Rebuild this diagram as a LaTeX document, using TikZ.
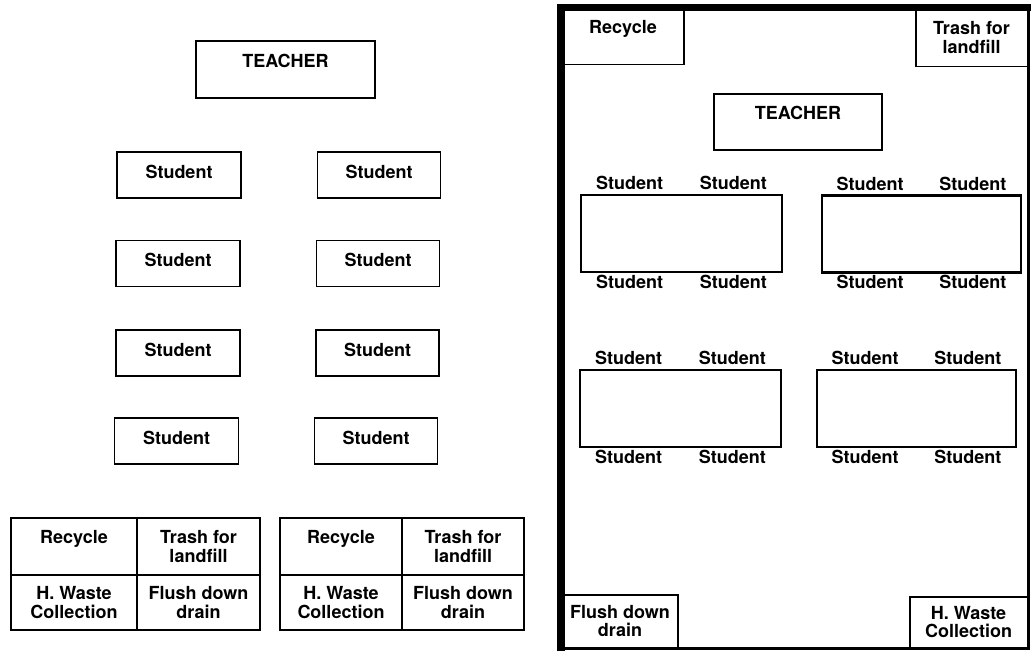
\documentclass[tikz,border=0pt]{standalone}
\usepackage{fontspec}
\setmainfont{TeX Gyre Heros}
\usetikzlibrary{positioning,calc}
\newlength\pxunit
\setlength\pxunit{0.025cm}
\tikzset{
    box/.style 2 args={draw, line width=1.4pt, minimum width=#1\pxunit, minimum height=#2\pxunit, inner sep=0pt, align=center},
    single desk/.style 2 args={box={#1}{#2}, text depth=5pt},
    bin/.style 2 args={box={#1}{#2}},
    group desk/.style 2 args={box={#1}{#2}, line width=1.6pt},
    seat/.style={inner sep=1pt},
    room wall/.style={line width=5.5pt},
    room wall thin/.style={line width=2.5pt},
}
\tikzstyle{every node}=[font=\fontsize{12.8}{13}\selectfont\bfseries]

\begin{document}
\begin{tikzpicture}[x=0.025cm, y=-0.025cm]
    \useasboundingbox (0,0) rectangle (1031,651);

    % rows of single desks
    \node[box={179}{57}] (teacherL) at (285.5,69.5) {TEACHER\\\mbox{}};
    \foreach \i/\y/\xl/\xr in {1/175/179/379, 2/263.5/178/378, 3/353/178/377.5, 4/441/176.5/376}{
        \node[single desk={124}{46}] (studL\i) at (\xl,\y) {Student};
        \node[single desk={123}{46}] (studR\i) at (\xr,\y) {Student};
    }

    % two sets of bins at the back
    \foreach \t/\xa/\wa/\xb/\wb in {1/74/126/198.5/123, 2/341/122/463/122}{
        \node[bin={\wa}{57}] (recy\t) at (\xa,546.5) {Recycle\\\mbox{}};
        \node[bin={\wb}{57}] (trash\t) at (\xb,546.5) {Trash for\\landfill};
        \node[bin={\wa}{55}] (hwaste\t) at (\xa,602.5) {H. Waste\\Collection};
        \node[bin={\wb}{55}] (flush\t) at (\xb,602.5) {Flush down\\drain};
    }

    % grouped room
    \draw[room wall thin] (1028.5,5) -- (1028.5,648.5) -- (559,648.5);
    \draw[room wall] (561,651) -- (561,7.5) -- (1031,7.5);

    \node[box={122}{56}, anchor=north west] (recyR) at (561,7.5) {Recycle\\\mbox{}};
    \node[box={112}{58}, anchor=north east] (trashR) at (1028.5,7.5) {Trash for\\landfill};
    \node[box={116}{53}, anchor=south west] (flushR) at (561,648.5) {Flush down\\drain};
    \node[box={118}{51}, anchor=south east] (hwasteR) at (1028.5,648.5) {H. Waste\\Collection};

    \node[box={168}{56}] (teacherR) at (798,122) {TEACHER\\\mbox{}};

    \foreach \n/\x/\y/\w in {1/681.5/233.5/201, 2/921.5/234/199, 3/680.5/408.5/201, 4/916.5/408.5/199}{
        \node[group desk={\w}{77}] (grp\n) at (\x,\y) {};
        \node[seat, above=1.5pt] (grp\n-na) at ($(grp\n.north west)!.245!(grp\n.north east)$) {Student};
        \node[seat, above=1.5pt] (grp\n-nb) at ($(grp\n.north west)!.755!(grp\n.north east)$) {Student};
        \node[seat, below=0pt] (grp\n-sa) at ($(grp\n.south west)!.245!(grp\n.south east)$) {Student};
        \node[seat, below=0pt] (grp\n-sb) at ($(grp\n.south west)!.755!(grp\n.south east)$) {Student};
    }
\end{tikzpicture}
\end{document}
